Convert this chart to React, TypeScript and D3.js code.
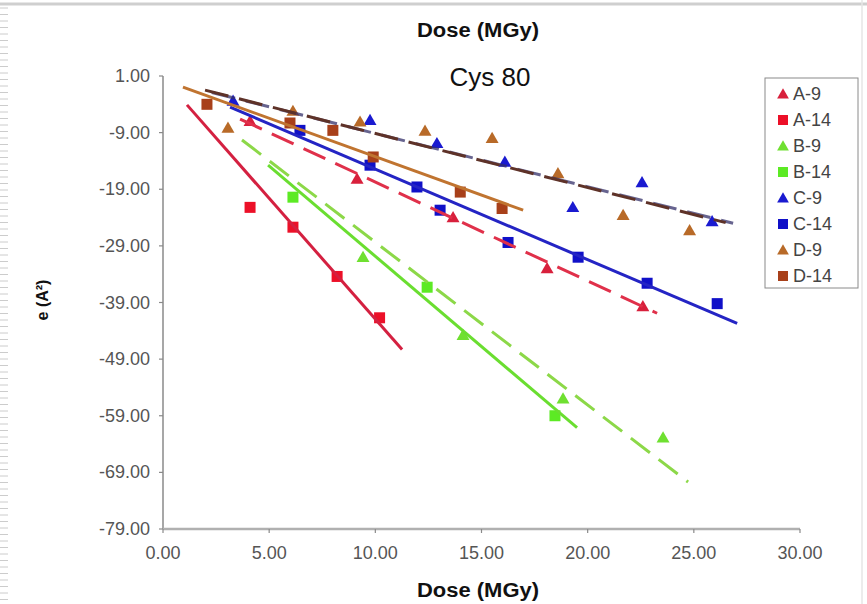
import React from "react";
import * as d3 from "d3";

// ---- data ----
const seriesNames = ["A-9", "A-14", "B-9", "B-14", "C-9", "C-14", "D-9", "D-14"];
const seriesShapes = ["triangle", "square", "triangle", "square", "triangle", "square", "triangle", "square"];
const markerColors = ["#d8203c", "#ec1028", "#6fe030", "#5cea24", "#1a1ad0", "#1010c8", "#b86a28", "#a8401a"];
const lineColors = ["#e0304a", "#d42040", "#8cd848", "#6ade30", "#34306a", "#2424c4", "#5e3228", "#c07430"];
const lineDashed = [true, false, true, false, true, false, true, false];

const a9X = [4.1, 9.14, 13.66, 18.09, 22.6];
const a9Y = [-7.0, -17.2, -24.0, -33.0, -39.7];
const a14X = [4.1, 6.12, 8.2, 10.2];
const a14Y = [-22.2, -25.7, -34.4, -41.7];
const b9X = [9.42, 14.13, 18.84, 23.55];
const b9Y = [-31.0, -44.8, -56.0, -62.9];
const b14X = [6.12, 12.44, 18.46];
const b14Y = [-20.4, -36.3, -59.0];
const c9X = [3.3, 9.75, 12.9, 16.1, 19.3, 22.56, 25.86];
const c9Y = [-3.4, -6.8, -10.9, -14.2, -22.2, -17.8, -24.7];
const c14X = [6.45, 9.75, 11.96, 13.05, 16.25, 19.55, 22.8, 26.1];
const c14Y = [-8.6, -14.75, -18.6, -22.7, -28.4, -31.0, -35.6, -39.2];
const d9X = [3.06, 6.12, 9.28, 12.34, 15.5, 18.6, 21.67, 24.8];
const d9Y = [-8.2, -5.2, -7.1, -8.7, -10.0, -16.2, -23.6, -26.3];
const d14X = [2.07, 5.98, 8.0, 9.9, 14.0, 15.97];
const d14Y = [-4.0, -7.3, -8.6, -13.3, -19.5, -22.4];

const seriesX = [a9X, a14X, b9X, b14X, c9X, c14X, d9X, d14X];
const seriesY = [a9Y, a14Y, b9Y, b14Y, c9Y, c14Y, d9Y, d14Y];

// linear trend lines (data units): start x, start y, end x, end y
const fitX0 = [3.63, 1.13, 3.72, 4.95, 2.3, 3.16, 1.98, 0.94];
const fitY0 = [-6.6, -4.1, -10.3, -14.75, -1.9, -4.5, -1.5, -0.95];
const fitX1 = [23.27, 11.26, 24.73, 19.5, 26.85, 27.04, 26.5, 16.96];
const fitY1 = [-40.9, -47.3, -70.7, -61.1, -25.0, -42.7, -24.9, -22.7];

const xTicks = [0, 5, 10, 15, 20, 25, 30];
const yTicks = [1, -9, -19, -29, -39, -49, -59, -69, -79];

const W = 867;
const H = 604;

export default function App() {
  const x = d3.scaleLinear().domain([0, 30]).range([163, 800]);
  const y = d3.scaleLinear().domain([-79, 1]).range([529, 76]);
  const fmt = (v: number) => d3.format(".2f")(v).replace("\u2212", "-");
  const font = "'Liberation Sans', Arial, sans-serif";

  const marker = (shape: string, cx: number, cy: number, color: string, key: string, s = 11) => {
    if (shape === "square") {
      return <rect key={key} x={cx - s / 2} y={cy - s / 2} width={s} height={s} fill={color} />;
    }
    const tri = d3.symbol().type(d3.symbolTriangle).size(s * s * 0.6)();
    return <path key={key} d={tri || ""} transform={`translate(${cx},${cy + 1})`} fill={color} />;
  };

  const line = d3
    .line<[number, number]>()
    .x((d) => x(d[0]))
    .y((d) => y(d[1]));

  const rulerYs = d3.range(8, H, 6.5);

  return (
    <svg width={W} height={H} style={{ position: "absolute", left: 0, top: 0, background: "#fff" }}>
      <rect x={0} y={0} width={W} height={H} fill="#fff" />
      {/* frame artifacts */}
      <line x1={0} x2={W} y1={4} y2={4} stroke="#cfcfcf" strokeWidth={3} />
      <line x1={862} x2={862} y1={0} y2={H} stroke="#e6e6e6" strokeWidth={1.5} />
      {rulerYs.map((ry, i) => (
        <line key={"r" + i} x1={0} x2={8} y1={ry} y2={ry} stroke="#cccccc" strokeWidth={1} />
      ))}

      {/* axes */}
      <line x1={x(0)} x2={x(0)} y1={y(1)} y2={y(-79)} stroke="#8a8a8a" strokeWidth={1.5} />
      <line x1={x(0)} x2={x(30)} y1={y(-79)} y2={y(-79)} stroke="#b0b0b0" strokeWidth={2.5} />
      {yTicks.map((t) => (
        <g key={"yt" + t}>
          <line x1={x(0) - 4} x2={x(0)} y1={y(t)} y2={y(t)} stroke="#8a8a8a" strokeWidth={1.2} />
          <text
            x={150}
            y={y(t)}
            textAnchor="end"
            dominantBaseline="central"
            fontFamily={font}
            fontSize={18}
            fill="#555"
          >
            {fmt(t)}
          </text>
        </g>
      ))}
      {xTicks.map((t) => (
        <g key={"xt" + t}>
          <line x1={x(t)} x2={x(t)} y1={y(-79)} y2={y(-79) + 4} stroke="#8a8a8a" strokeWidth={1.2} />
          <text x={x(t)} y={559} textAnchor="middle" fontFamily={font} fontSize={18} fill="#555">
            {fmt(t)}
          </text>
        </g>
      ))}

      {/* titles */}
      <text x={478} y={37} textAnchor="middle" fontFamily={font} fontSize={20} fontWeight="bold" fill="#111"
        textLength={122} lengthAdjust="spacingAndGlyphs">
        Dose (MGy)
      </text>
      <text x={478} y={597} textAnchor="middle" fontFamily={font} fontSize={20} fontWeight="bold" fill="#111"
        textLength={122} lengthAdjust="spacingAndGlyphs">
        Dose (MGy)
      </text>
      <text x={490} y={86} textAnchor="middle" fontFamily={font} fontSize={26} fill="#111">
        Cys 80
      </text>
      <text
        transform="translate(42,300) rotate(-90)"
        textAnchor="middle"
        dominantBaseline="central"
        fontFamily={font}
        fontSize={16}
        fontWeight="bold"
        fill="#111"
      >
        e (A²)
      </text>

      {/* markers */}
      {seriesNames.map((name, si) =>
        seriesX[si].map((xv, i) => marker(seriesShapes[si], x(xv), y(seriesY[si][i]), markerColors[si], name + "-" + i))
      )}

      {/* trend lines */}
      {seriesNames.map((name, si) => (
        <path
          key={"fit" + name}
          d={
            line([
              [fitX0[si], fitY0[si]],
              [fitX1[si], fitY1[si]],
            ]) || ""
          }
          stroke={lineColors[si]}
          strokeWidth={3}
          strokeDasharray={lineDashed[si] ? "24,11" : undefined}
          opacity={name === "C-9" ? 0.75 : 1}
          fill="none"
        />
      ))}

      {/* legend */}
      <rect x={765} y={78} width={93} height={210} fill="#fff" stroke="#8a8a8a" strokeWidth={1} />
      {seriesNames.map((name, si) => {
        const ly = 94 + si * 26;
        return (
          <g key={"lg" + name}>
            {marker(seriesShapes[si], 783, ly, markerColors[si], "lm" + name, 10)}
            <text x={793} y={ly} dominantBaseline="central" fontFamily={font} fontSize={18} fill="#444">
              {name}
            </text>
          </g>
        );
      })}
    </svg>
  );
}
